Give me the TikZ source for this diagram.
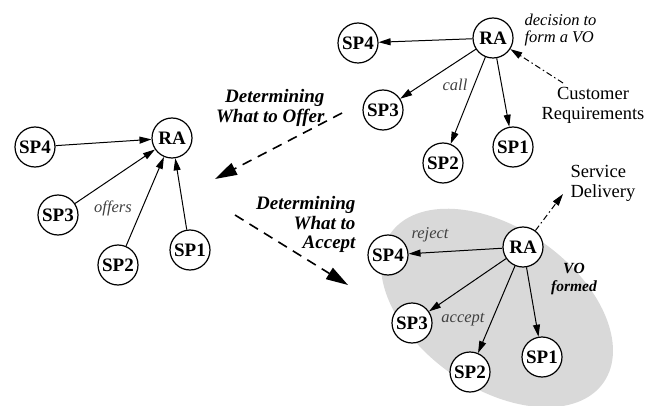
\documentclass[tikz,border=0pt]{standalone}
\usepackage{fontspec}
\setmainfont{Liberation Serif}
\usetikzlibrary{positioning,arrows.meta}

\tikzset{
  agent/.style={draw,circle,line width=1.2pt,fill=white,minimum size=40pt,inner sep=0pt,
    font=\fontsize{19}{19}\selectfont\bfseries},
  msg/.style={-{Triangle[length=12pt,width=7pt]},line width=1pt},
  phase/.style={-{Triangle[length=22pt,width=13pt]},line width=1.6pt,dash pattern=on 10pt off 7pt},
  ext/.style={-{Triangle[length=12pt,width=7pt]},line width=1pt,dash pattern=on 6pt off 3pt on 1.5pt off 3pt},
  tag/.style={font=\fontsize{16.5}{17}\selectfont\itshape,text=black!75},
  note/.style={font=\fontsize{18.5}{20}\selectfont,align=center}
}

\begin{document}
\begin{tikzpicture}[x=1pt,y=-1pt]
		\useasboundingbox (0,0) rectangle (655,406);

		% VO region
		\fill[gray!30,rotate around={-35:(497,308)}] (497,308) ellipse (130 and 80);

		% Call for participation
		\node[agent] (raT) at (493,38) {RA};
		\node[agent] (sp4T) at (358,43) {SP4};
		\node[agent] (sp3T) at (383,110) {SP3};
		\node[agent] (sp2T) at (443,163) {SP2};
		\node[agent] (sp1T) at (513,147) {SP1};
		\draw[msg] (raT) -- (sp4T);
		\draw[msg] (raT) -- (sp3T);
		\draw[msg] (raT) -- (sp2T);
		\draw[msg] (raT) -- (sp1T);
		\node[tag] at (455,85) {call};
		\node[font=\fontsize{16.5}{17}\selectfont\itshape,align=left,anchor=west] (dec) at (521,30) {decision to\\form a VO};
		\node[note] (cust) at (593,105) {Customer\\Requirements};
		\coordinate (custStart) at (563,83);
		\draw[ext] (custStart) -- (raT);

		% Offers
		\node[agent] (raL) at (172,138) {RA};
		\node[agent] (sp4L) at (35,147) {SP4};
		\node[agent] (sp3L) at (58,215) {SP3};
		\node[agent] (sp2L) at (118,265) {SP2};
		\node[agent] (sp1L) at (190,250) {SP1};
		\draw[msg] (sp4L) -- (raL);
		\draw[msg] (sp3L) -- (raL);
		\draw[msg] (sp2L) -- (raL);
		\draw[msg] (sp1L) -- (raL);
		\node[tag] at (113,208) {offers};

		% Phases
		\coordinate (offerStart) at (342,113);
		\coordinate (offerEnd) at (215,179);
		\draw[phase] (offerStart) -- (offerEnd);
		\node[font=\fontsize{19}{19.5}\selectfont\bfseries\itshape,align=right,anchor=north east] (offerTxt) at (328,86) {Determining\\What to Offer};
		\coordinate (acceptStart) at (235,215);
		\coordinate (acceptEnd) at (348,285);
		\draw[phase] (acceptStart) -- (acceptEnd);
		\node[font=\fontsize{19}{19.5}\selectfont\bfseries\itshape,align=right,anchor=north east] (acceptTxt) at (359,193) {Determining\\What to\\Accept};

		% VO formed
		\node[agent] (raB) at (523,247) {RA};
		\node[agent] (sp4B) at (388,255) {SP4};
		\node[agent] (sp3B) at (412,323) {SP3};
		\node[agent] (sp2B) at (470,372) {SP2};
		\node[agent] (sp1B) at (542,357) {SP1};
		\draw[msg] (raB) -- (sp4B);
		\draw[msg] (raB) -- (sp3B);
		\draw[msg] (raB) -- (sp2B);
		\draw[msg] (raB) -- (sp1B);
		\node[tag] at (430,235) {reject};
		\node[tag] at (463,320) {accept};
		\node[font=\fontsize{15.5}{17.5}\selectfont\bfseries\itshape,align=center] (vo) at (574,279) {VO\\formed};
		\node[note,align=left,anchor=west] (serv) at (567,183) {Service\\Delivery};
		\coordinate (servEnd) at (563,194);
		\draw[ext] (raB) -- (servEnd);
	\end{tikzpicture}
\end{document}
